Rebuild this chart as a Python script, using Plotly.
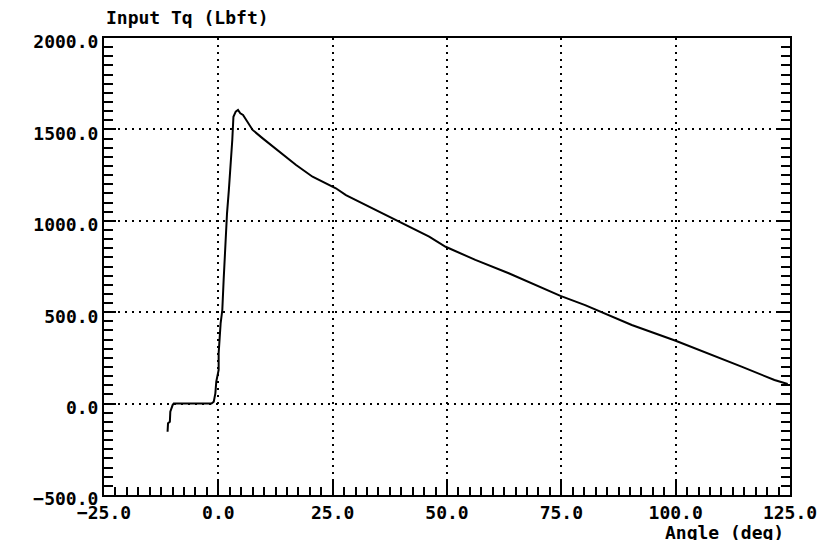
import plotly.graph_objects as go

# Data
angle_deg = [-11.1, -11.0, -10.6, -10.5, -10.0, -9.75, -1.5, -1.0, -0.65, -0.45, 0.07, 0.07,
             0.5, 0.87, 1.16, 1.6, 1.9, 2.3, 2.7, 3.05, 3.3, 3.8, 4.3, 4.8, 5.4, 7.5, 9.7,
             13.4, 17.0, 20.6, 24.3, 25.0, 25.7, 27.9, 31.5, 35.2, 38.8, 42.4, 46.1, 49.7,
             56.2, 63.5, 69.3, 74.8, 80.2, 83.1, 86.0, 90.4, 100.0, 107.1, 114.4, 121.6, 124.5]
input_tq = [-154, -108, -99, -44, -8, 0, 0, 10, 56, 120, 184, 275,
            439, 512, 676, 913, 1041, 1168, 1296, 1442, 1569, 1597, 1606, 1588, 1579, 1497, 1451,
            1378, 1305, 1241, 1196, 1190, 1178, 1141, 1096, 1050, 1004, 959, 913, 858,
            786, 713, 649, 589, 539, 509, 479, 430, 344, 275, 202, 129, 107]

x_range = [-25, 125]
y_range = [-500, 2000]
y_title = "Input Tq (Lbft)"
x_title = "Angle (deg)"

FONT = "DejaVu Sans Mono"

fig = go.Figure()
fig.add_trace(go.Scatter(x=angle_deg, y=input_tq, mode="lines",
                         line=dict(color="black", width=2), showlegend=False,
                         hoverinfo="skip"))

axis_common = dict(
    showline=True, linecolor="black", linewidth=2,
    ticks="inside", tickcolor="black", tickwidth=2,
    showgrid=True, gridcolor="black", gridwidth=1.6, griddash="2px,5px",
    zeroline=False, tickformat=".1f",
    tickfont=dict(family=FONT, size=18, color="black", weight="bold"),
)

fig.update_xaxes(range=x_range, dtick=25, tick0=-25, ticklen=15, mirror=True,
                 minor=dict(dtick=2.5, ticks="inside", ticklen=8, tickcolor="black",
                            tickwidth=2, showgrid=False),
                 **axis_common)
fig.update_yaxes(range=y_range, dtick=500, tick0=-500, ticklen=12, mirror="ticks",
                 minor=dict(dtick=50, ticks="inside", ticklen=9, tickcolor="black",
                            tickwidth=2, showgrid=False),
                 ticklabelshift=4,
                 **axis_common)

fig.add_annotation(text=y_title, xref="paper", yref="paper", x=0, y=1.044,
                   xanchor="left", yanchor="middle", showarrow=False,
                   font=dict(family=FONT, size=18, color="black", weight="bold"))
fig.add_annotation(text=x_title, xref="paper", yref="paper", x=0.994, y=-0.081,
                   xanchor="right", yanchor="middle", showarrow=False,
                   font=dict(family=FONT, size=18, color="black", weight="bold"))

fig.update_layout(width=829, height=540, margin=dict(l=104, r=37, t=38, b=45),
                  plot_bgcolor="white", paper_bgcolor="white")

fig.write_html("out.html")
